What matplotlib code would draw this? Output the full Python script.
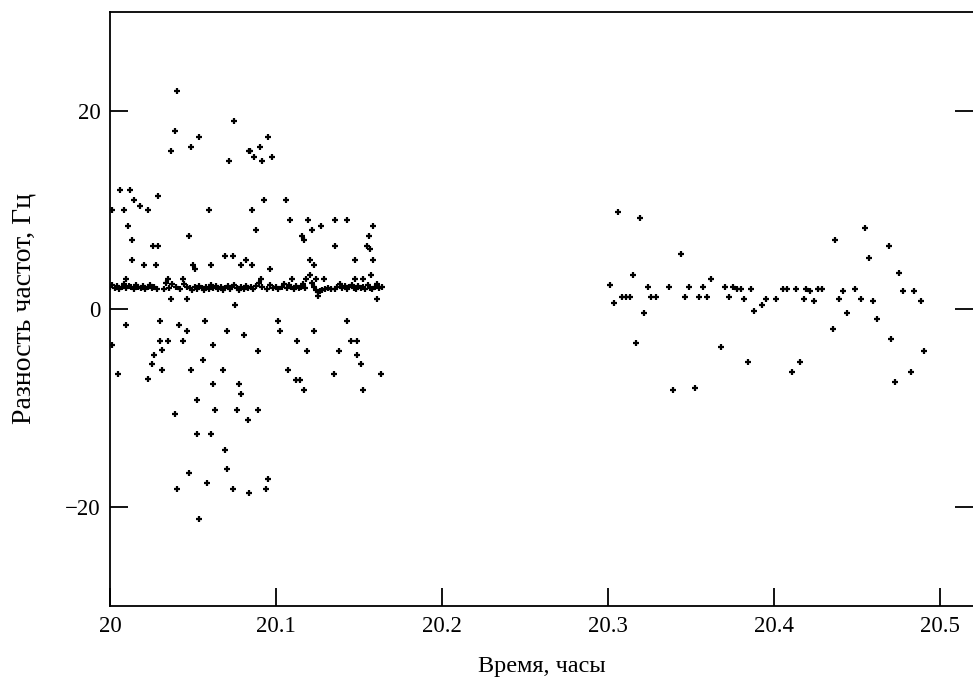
import matplotlib
matplotlib.use("Agg")
import matplotlib.pyplot as plt

plt.rcParams['font.family'] = ['Liberation Serif', 'DejaVu Serif']

# scattered points, first session (time in hours, frequency difference in Hz)
t1 = [20.0405, 20.0749, 20.0393, 20.0536, 20.0367, 20.0488, 20.0837, 20.0715,
      20.0060, 20.0120, 20.0145, 20.0287, 20.0179, 20.0227, 20.0010, 20.0083,
      20.0595, 20.0108, 20.0133, 20.0476, 20.0261, 20.0287,
      20.0954, 20.0845, 20.0904, 20.0869, 20.0918, 20.0976, 20.0930, 20.1060,
      20.0857, 20.1084, 20.1190, 20.1357, 20.1428, 20.0881, 20.1215, 20.1273,
      20.1584, 20.1155, 20.1167, 20.1560, 20.1357, 20.1546, 20.1566,
      20.0133, 20.0203, 20.0275, 20.0500, 20.0512, 20.0608, 20.0691, 20.0739,
      20.0787, 20.0821, 20.0096, 20.0347, 20.0442, 20.0367, 20.0466, 20.0751,
      20.0096, 20.0299, 20.0418, 20.0466, 20.0574, 20.0703, 20.0807, 20.0012,
      20.0299, 20.0347, 20.0442, 20.0620, 20.0311, 20.0263, 20.0560, 20.0251,
      20.0311, 20.0488, 20.0679, 20.0048, 20.0227,
      20.0620, 20.0775, 20.0787, 20.0524, 20.0393, 20.0633, 20.0763, 20.0833,
      20.0524, 20.0608, 20.0691, 20.0703, 20.0476, 20.0584, 20.0405, 20.0739,
      20.0835, 20.0536,
      20.1074, 20.1120, 20.1145, 20.1167, 20.1348, 20.1634, 20.1526, 20.0893,
      20.0954, 20.0942,
      20.0857, 20.0964, 20.1203, 20.1227, 20.1476, 20.1584, 20.1572, 20.1203,
      20.0912, 20.1096, 20.1179, 20.1239, 20.1287, 20.1476, 20.1524, 20.1251,
      20.1608, 20.1012, 20.1428, 20.1024, 20.1227, 20.1124, 20.1452, 20.1488,
      20.0893, 20.1185, 20.1381, 20.1488, 20.1512]
d1 = [22.0, 19.0, 18.0, 17.4, 16.0, 16.4, 16.0, 15.0,
      12.0, 12.0, 11.0, 11.4, 10.4, 10.0, 10.0, 10.0,
      10.0, 8.4, 7.0, 7.4, 6.4, 6.4,
      17.4, 16.0, 16.4, 15.4, 15.0, 15.4, 11.0, 11.0,
      10.0, 9.0, 9.0, 9.0, 9.0, 8.0, 8.0, 8.4,
      8.4, 7.4, 7.0, 7.4, 6.4, 6.4, 6.1,
      5.0, 4.4, 4.4, 4.4, 4.0, 4.4, 5.4, 5.4,
      4.4, 4.95, 3.0, 3.0, 3.0, 1.0, 1.0, 0.4,
      -1.6, -1.2, -1.6, -2.2, -1.2, -2.2, -2.6, -3.6,
      -3.2, -3.2, -3.2, -3.6, -4.1, -4.6, -5.2, -5.6,
      -6.2, -6.2, -6.2, -6.6, -7.1,
      -7.6, -7.6, -8.6, -9.2, -10.6, -10.2, -10.2, -11.2,
      -12.6, -12.6, -14.2, -16.2, -16.6, -17.6, -18.2, -18.2,
      -18.6, -21.2,
      -6.2, -7.2, -7.2, -8.2, -6.6, -6.6, -8.2, -10.2,
      -17.2, -18.2,
      4.4, 4.0, 5.0, 4.4, 5.0, 5.0, 3.4, 3.4,
      3.0, 3.0, 3.0, 3.0, 3.0, 3.0, 3.0, 1.35,
      1.0, -1.2, -1.2, -2.2, -2.2, -3.2, -3.2, -3.2,
      -4.2, -4.2, -4.2, -4.6, -5.6]

# dense band of readings near 2 Hz, first session
t_band = [20.0000, 20.0015, 20.0030, 20.0042, 20.0057, 20.0072, 20.0084, 20.0099,
          20.0114, 20.0127, 20.0142, 20.0157, 20.0169, 20.0184, 20.0199, 20.0211,
          20.0226, 20.0241, 20.0253, 20.0268, 20.0283,
          20.0325, 20.0337, 20.0355, 20.0373, 20.0398, 20.0422, 20.0446, 20.0464,
          20.0482, 20.0497, 20.0512, 20.0524, 20.0539, 20.0554, 20.0566, 20.0581,
          20.0596, 20.0608, 20.0623, 20.0639, 20.0651, 20.0666, 20.0681, 20.0693,
          20.0708, 20.0723, 20.0735, 20.0750, 20.0765, 20.0777, 20.0792, 20.0807,
          20.0819, 20.0834, 20.0849, 20.0861,
          20.0880, 20.0898, 20.0916, 20.0946, 20.0964, 20.0982, 20.1000, 20.1012,
          20.1036, 20.1051, 20.1066, 20.1078, 20.1093, 20.1108, 20.1120, 20.1136,
          20.1151, 20.1163, 20.1175,
          20.1217, 20.1229, 20.1241, 20.1253, 20.1265, 20.1277, 20.1295, 20.1313,
          20.1331,
          20.1355, 20.1370, 20.1386, 20.1398, 20.1413, 20.1428, 20.1440, 20.1455,
          20.1470, 20.1482, 20.1497, 20.1512, 20.1524, 20.1539, 20.1554, 20.1566,
          20.1581, 20.1596, 20.1608, 20.1623, 20.1639]
d_band = [2.2, 2.4, 2.1, 2.3, 2.0, 2.2, 2.5, 2.1,
          2.3, 2.2, 2.0, 2.4, 2.2, 2.1, 2.3, 2.0,
          2.2, 2.4, 2.1, 2.2, 2.0,
          2.0, 2.6, 2.1, 2.5, 2.2, 2.0, 2.5, 2.2,
          2.1, 1.9, 2.2, 2.0, 2.3, 2.1, 1.9, 2.2,
          2.0, 2.4, 2.1, 2.3, 2.0, 2.2, 1.9, 2.1,
          2.3, 2.0, 2.2, 2.4, 2.1, 1.9, 2.2, 2.0,
          2.3, 2.1, 2.2, 2.0,
          2.3, 2.6, 2.2, 2.0, 2.4, 2.1, 2.2, 2.0,
          2.2, 2.5, 2.1, 2.4, 2.2, 2.0, 2.3, 2.1,
          2.2, 2.5, 2.1,
          2.6, 2.2, 1.9, 1.7, 1.8, 1.9, 2.0, 2.1,
          2.0,
          2.0, 2.2, 2.5, 2.1, 2.3, 2.0, 2.2, 2.4,
          2.1, 2.0, 2.3, 2.1, 2.2, 2.0, 2.4, 2.1,
          2.0, 2.2, 2.5, 2.1, 2.2]

# second session
t2 = [20.3062, 20.3193, 20.3440, 20.3153, 20.3620, 20.3014, 20.3239, 20.3369,
      20.3490, 20.3572, 20.3703, 20.3751, 20.3775, 20.3799, 20.3860, 20.4056,
      20.4080, 20.3036, 20.3084, 20.3108, 20.3133, 20.3261, 20.3287, 20.3466,
      20.3548, 20.3596, 20.3727, 20.3821, 20.3953, 20.4014, 20.3929, 20.3881,
      20.3215, 20.3167, 20.3681, 20.3845, 20.3393, 20.3526,
      20.4130, 20.4191, 20.4215, 20.4263, 20.4287, 20.4179, 20.4239, 20.4370,
      20.4550, 20.4691, 20.4572, 20.4751, 20.4418, 20.4490, 20.4775, 20.4845,
      20.4393, 20.4526, 20.4596, 20.4884, 20.4442, 20.4620, 20.4357, 20.4705,
      20.4904, 20.4157, 20.4108, 20.4823, 20.4729]
d2 = [9.8, 9.15, 5.6, 3.4, 3.0, 2.4, 2.2, 2.2,
      2.2, 2.2, 2.2, 2.2, 2.0, 2.0, 2.0, 2.0,
      2.0, 0.6, 1.2, 1.2, 1.2, 1.2, 1.2, 1.2,
      1.2, 1.2, 1.2, 1.0, 1.0, 1.0, 0.4, -0.2,
      -0.4, -3.4, -3.8, -5.4, -8.2, -8.0,
      2.0, 2.0, 1.8, 2.0, 2.0, 1.0, 0.8, 7.0,
      8.2, 6.4, 5.2, 3.6, 1.8, 2.0, 1.8, 1.8,
      1.0, 1.0, 0.8, 0.8, -0.4, -1.0, -2.0, -3.0,
      -4.2, -5.4, -6.4, -6.4, -7.4]

x_ticks = [20, 20.1, 20.2, 20.3, 20.4, 20.5]
x_labels = ['20', '20.1', '20.2', '20.3', '20.4', '20.5']
y_ticks = [-20, 0, 20]

fig = plt.figure(figsize=(9.73, 6.77), dpi=100)
ax = fig.add_axes([110/973, 1 - 606/677, 863/973, 594/677])

mk = dict(ls='none', marker='+', ms=5, mew=1.6, color='black')
ax.plot(t_band, d_band, **mk)
ax.plot(t1, d1, **mk)
ax.plot(t2, d2, **mk)

ax.set_xlim(20, 20.5199)
ax.set_ylim(-30, 30)
ax.set_xticks(x_ticks)
ax.set_xticklabels(x_labels)
ax.set_yticks(y_ticks)

for s in ['left', 'top', 'bottom']:
    ax.spines[s].set_linewidth(1.3)
ax.spines['right'].set_visible(False)

ax.tick_params(direction='in', length=13, width=1.3, labelsize=16.5, pad=7,
               left=True, right=True, bottom=True, top=False)

ax.set_xlabel('Время, часы', fontsize=17.5, labelpad=14)
ax.set_ylabel('Разность частот, Гц', fontsize=20, labelpad=20)

fig.savefig('out.png', dpi=100)
